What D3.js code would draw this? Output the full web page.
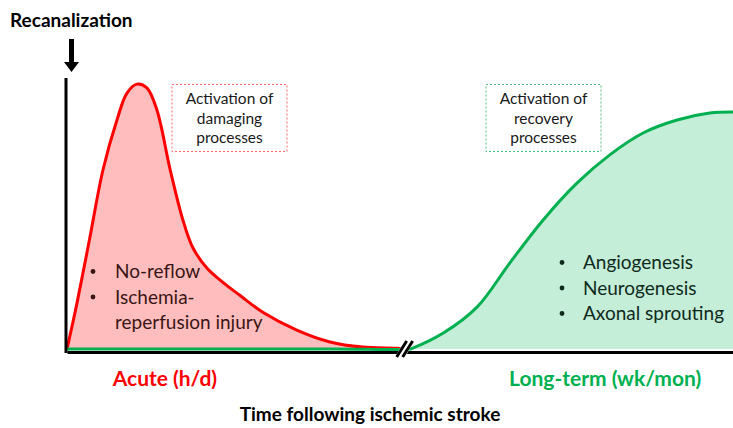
<!DOCTYPE html>
<html>
<head>
<meta charset="utf-8">
<script src="https://cdn.jsdelivr.net/npm/d3@7"></script>
<style>
    body { margin: 0; background: #fff; }
    text { font-family: Lato, "Open Sans", sans-serif; }
</style>
</head>
<body>
<div id="chart"></div>
<script>

// time is in arbitrary units (0-100), level in percent of max
const damageTime  = [0, 1.5, 3.45, 5.4, 7.5, 9.0, 10.5, 12.0, 13.5, 15.5, 17.4, 18.9, 21.0, 23.5, 26.0, 29.4, 34.5, 39.5, 44.4, 49.5, 50.8]
const damageLevel = [0, 17, 41.5, 66.3, 84.8, 94.8, 98.1, 96.7, 88.5, 66.3, 47.8, 37.5, 30.0, 24.5, 19.8, 13.6, 7.0, 2.6, 0.7, 0.3, 0]

const recoveryTime  = [0, 20, 40, 51.5, 52.0, 56.5, 61.6, 66.5, 71.5, 76.6, 81.5, 86.5, 91.6, 96.5, 100]
const recoveryLevel = [0, 0, 0, 0, 0.4, 5.9, 15.6, 31.9, 47.8, 61.5, 71.9, 80, 84.8, 87.4, 87.8]

const damageItems   = ["No-reflow", "Ischemia-", "reperfusion injury"]
const damageBullets = [true, true, false]
const recoveryItems = ["Angiogenesis", "Neurogenesis", "Axonal sprouting"]

const damageBoxLines   = ["Activation of", "damaging", "processes"]
const recoveryBoxLines = ["Activation of", "recovery", "processes"]

const phaseLabels = ["Acute (h/d)", "Long-term (wk/mon)"]
const phaseTimes  = [14.7, 80.8]   // where the phase label sits on the time axis
const breakTime   = 50.7

const W = 733, H = 428
const red = "#ff0000", green = "#00b050"

const svg = d3.select("#chart").append("svg")
    .attr("width", W)
    .attr("height", H)

const x = d3.scaleLinear().domain([0, 100]).range([67, 733])
const y = d3.scaleLinear().domain([0, 100]).range([349, 79])

const toPoints = (ts, vs) => ts.map((t, i) => ({ t: t, v: vs[i] }))
const damage = toPoints(damageTime, damageLevel)
const recovery = toPoints(recoveryTime, recoveryLevel)

const area = d3.area()
    .x(d => x(d.t))
    .y0(y(0))
    .y1(d => Math.min(y(0), y(d.v)))
    .curve(d3.curveCatmullRom.alpha(0.5))

const line = d3.line()
    .x(d => x(d.t))
    .y(d => y(d.v))
    .curve(d3.curveCatmullRom.alpha(0.5))

// filled areas
svg.append("path").datum(damage)
    .attr("fill", "#ffbdbd")
    .attr("d", area)
svg.append("path").datum(recovery.filter(d => d.t >= 51.5))
    .attr("fill", "#c5eed8")
    .attr("d", area)

// curves
svg.append("path").datum(damage)
    .attr("fill", "none")
    .attr("stroke", red)
    .attr("stroke-width", 3)
    .attr("d", line)
svg.append("path").datum(recovery)
    .attr("fill", "none")
    .attr("stroke", green)
    .attr("stroke-width", 3)
    .attr("d", line)

// axes (no ticks)
svg.append("g")
    .attr("transform", "translate(0," + 352 + ")")
    .call(d3.axisBottom(x).tickValues([]).tickSizeOuter(0))
    .select(".domain")
        .attr("stroke", "#000")
        .attr("stroke-width", 3)
svg.append("g")
    .attr("transform", "translate(" + 66 + ",0)")
    .call(d3.axisLeft(y).tickValues([]).tickSizeOuter(0))
    .select(".domain")
        .attr("stroke", "#000")
        .attr("stroke-width", 3)
        .attr("d", "M0," + 353 + "V" + 78)

// axis break marks
const bx = x(breakTime)
const breakG = svg.append("g").attr("transform", "translate(" + bx + "," + 349 + ")")
breakG.append("rect")
    .attr("x", -5).attr("y", -9).attr("width", 10).attr("height", 18)
    .attr("fill", "#fff")
    .attr("transform", "skewX(-30)")
;[-3, 3].forEach(dx => {
    breakG.append("line")
        .attr("x1", dx - 5).attr("y1", 8)
        .attr("x2", dx + 5).attr("y2", -8)
        .attr("stroke", "#000")
        .attr("stroke-width", 3)
})

// recanalization arrow
svg.append("text")
    .attr("x", 10).attr("y", 27)
    .attr("font-weight", "bold")
    .attr("font-size", 19)
    .attr("fill", "#000")
    .text("Recanalization")
svg.append("path")
    .attr("d", "M69,39 H74 V62 H79 L71.5,72 L64,62 H69 Z")
    .attr("fill", "#000")

// dashed annotation boxes
function drawBox(cx, lines, color){
    svg.append("rect")
        .attr("x", cx - 57.5).attr("y", 84.5)
        .attr("width", 115).attr("height", 67)
        .attr("fill", "none")
        .attr("stroke", color)
        .attr("stroke-width", 1)
        .attr("stroke-dasharray", "2,2")
    lines.forEach((s, i) => {
        svg.append("text")
            .attr("x", cx).attr("y", 104 + i * 19.5)
            .attr("text-anchor", "middle")
            .attr("font-size", 15.5)
            .attr("fill", "#1a1a1a")
            .text(s)
    })
}
drawBox(229.5, damageBoxLines, "#f66")
drawBox(543.5, recoveryBoxLines, "#4cc17f")

// bullet lists inside the areas
function drawList(bulletX, textX, baseY, items, bullets, color){
    items.forEach((s, i) => {
        if(bullets[i]){
            svg.append("circle")
                .attr("cx", bulletX).attr("cy", baseY + i * 25.5 - 6.5)
                .attr("r", 2.4)
                .attr("fill", color)
        }
        svg.append("text")
            .attr("x", textX).attr("y", baseY + i * 25.5)
            .attr("font-size", 19)
            .attr("fill", color)
            .text(s)
    })
}
drawList(93, 115, 278, damageItems, damageBullets, "#3a1515")
drawList(562, 583, 269, recoveryItems, [true, true, true], "#0f2a1c")

// phase labels under the axis
phaseLabels.forEach((s, i) => {
    svg.append("text")
        .attr("x", x(phaseTimes[i])).attr("y", 386)
        .attr("text-anchor", "middle")
        .attr("font-weight", "bold")
        .attr("font-size", 21)
        .attr("fill", i === 0 ? red : green)
        .text(s)
})

// x label
svg.append("text")
    .attr("x", 370).attr("y", 421)
    .attr("text-anchor", "middle")
    .attr("font-weight", "bold")
    .attr("font-size", 19)
    .attr("fill", "#000")
    .text("Time following ischemic stroke")

</script>
</body>
</html>
